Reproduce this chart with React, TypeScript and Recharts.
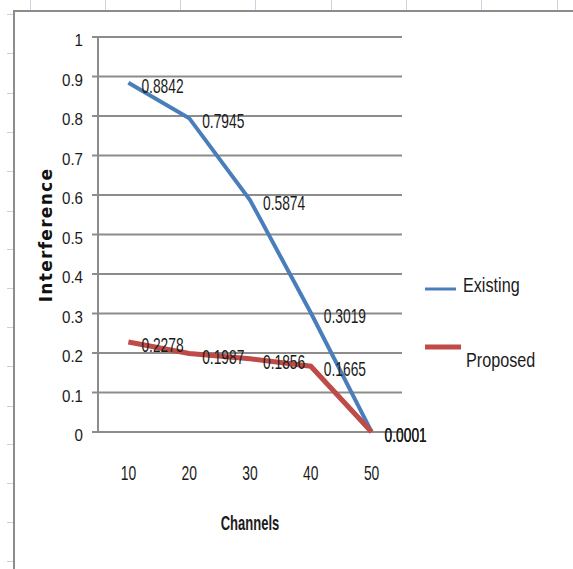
import React from "react";
import {
  LineChart,
  Line,
  XAxis,
  YAxis,
  CartesianGrid,
  LabelList,
} from "recharts";

// chart values
const channels = [10, 20, 30, 40, 50];
const existing = [0.8842, 0.7945, 0.5874, 0.3019, 0.0001];
const proposed = [0.2278, 0.1987, 0.1856, 0.1665, 0.0001];
const yTicks = [0, 0.1, 0.2, 0.3, 0.4, 0.5, 0.6, 0.7, 0.8, 0.9, 1];
// category borders, where excel puts the tick marks
const xBorders = [5, 15, 25, 35, 45, 55];

const data = channels.map((ch, i) => ({
  ch,
  existing: existing[i],
  proposed: proposed[i],
}));

// the screenshot is a stretched calibri, so squeeze arial sideways
const FONT = "'Liberation Sans', Arial, sans-serif";
const GRID = "#8c8c8c";
const TEXT = "#1b1b1b";
const BLUE = "#4a7ebb";
const RED = "#be4b48";

// spreadsheet cell borders behind the chart
const colLines = [30, 105, 180, 255, 331, 406, 481, 557];
const rowLines = [14, 53, 93, 132, 171, 211, 249, 288, 327, 366, 406, 444, 483, 522, 561];

const DataLabel = (props: any) => {
  const { x, y, value } = props;
  return (
    <text
      transform={`translate(${x + 13},${y + 10}) scale(0.69,1)`}
      fontFamily={FONT}
      fontSize={20}
      fill={TEXT}
    >
      {String(value)}
    </text>
  );
};

const YTick = (props: any) => {
  const { x, y, payload } = props;
  return (
    <text
      transform={`translate(${x},${y + 9}) scale(0.89,1)`}
      textAnchor="end"
      fontFamily={FONT}
      fontSize={17}
      fill={TEXT}
    >
      {String(payload.value)}
    </text>
  );
};

const XTick = (props: any) => {
  const { x, y, payload } = props;
  return (
    <text
      transform={`translate(${x},${y + 42}) scale(0.66,1)`}
      textAnchor="middle"
      fontFamily={FONT}
      fontSize={21}
      fill={TEXT}
    >
      {String(payload.value)}
    </text>
  );
};

export default function App() {
  return (
    <div
      style={{
        position: "absolute",
        left: 0,
        top: 0,
        width: 573,
        height: 569,
        background: "#fff",
        overflow: "hidden",
      }}
    >
      {colLines.map((x) => (
        <div
          key={`c-${x}`}
          style={{ position: "absolute", left: x, top: 0, width: 1, height: 11, background: "#c9d3e3" }}
        />
      ))}
      {rowLines.map((y) => (
        <div
          key={`r-${y}`}
          style={{ position: "absolute", left: 7, top: y, width: 7, height: 1, background: "#c9d3e3" }}
        />
      ))}
      <div
        style={{
          position: "absolute",
          left: 13,
          top: 10,
          width: 600,
          height: 600,
          borderTop: "2px solid #8c8c8c",
          borderLeft: "2px solid #8c8c8c",
        }}
      />

      <div style={{ position: "absolute", left: 0, top: 0 }}>
        <LineChart
          width={573}
          height={569}
          data={data}
          margin={{ top: 37, right: 171, bottom: 0, left: 0 }}
        >
          <CartesianGrid vertical={false} stroke={GRID} strokeWidth={2} />
          <XAxis
            xAxisId="marks"
            dataKey="ch"
            type="number"
            domain={[5, 55]}
            ticks={xBorders}
            tick={false}
            tickSize={8}
            height={0}
            axisLine={{ stroke: GRID, strokeWidth: 2 }}
            tickLine={{ stroke: GRID, strokeWidth: 2 }}
          />
          <XAxis
            dataKey="ch"
            type="number"
            domain={[5, 55]}
            ticks={channels}
            axisLine={false}
            tickLine={false}
            height={137}
            tickMargin={0}
            tick={<XTick />}
          />
          <YAxis
            domain={[0, 1]}
            ticks={yTicks}
            width={98}
            tickSize={6}
            tickMargin={9}
            axisLine={{ stroke: GRID, strokeWidth: 2 }}
            tickLine={{ stroke: GRID, strokeWidth: 2 }}
            tick={<YTick />}
          />
          <Line
            dataKey="existing"
            stroke={BLUE}
            strokeWidth={4}
            dot={false}
            isAnimationActive={false}
          >
            <LabelList dataKey="existing" content={DataLabel} />
          </Line>
          <Line
            dataKey="proposed"
            stroke={RED}
            strokeWidth={5}
            dot={false}
            isAnimationActive={false}
          >
            <LabelList dataKey="proposed" content={DataLabel} />
          </Line>
        </LineChart>
      </div>

      {/* titles and legend */}
      <svg
        width={573}
        height={569}
        style={{ position: "absolute", left: 0, top: 0, pointerEvents: "none" }}
      >
        <text
          transform="translate(52,235) rotate(-90)"
          textAnchor="middle"
          fontFamily="'DejaVu Sans', sans-serif"
          fontWeight={700}
          fontSize={17}
          letterSpacing={1.3}
          fill="#111"
        >
          Interference
        </text>
        <text
          transform="translate(250,530) scale(0.62,1)"
          textAnchor="middle"
          fontFamily={FONT}
          fontWeight={700}
          fontSize={21}
          fill={TEXT}
        >
          Channels
        </text>

        <line x1={425} x2={456} y1={289} y2={289} stroke={BLUE} strokeWidth={3} />
        <text
          transform="translate(463,292) scale(0.83,1)"
          fontFamily={FONT}
          fontSize={19.5}
          fill={TEXT}
        >
          Existing
        </text>
        <line x1={425} x2={461} y1={347} y2={347} stroke={RED} strokeWidth={5} />
        <text
          transform="translate(466,367) scale(0.77,1)"
          fontFamily={FONT}
          fontSize={21}
          fill={TEXT}
        >
          Proposed
        </text>
      </svg>
    </div>
  );
}
